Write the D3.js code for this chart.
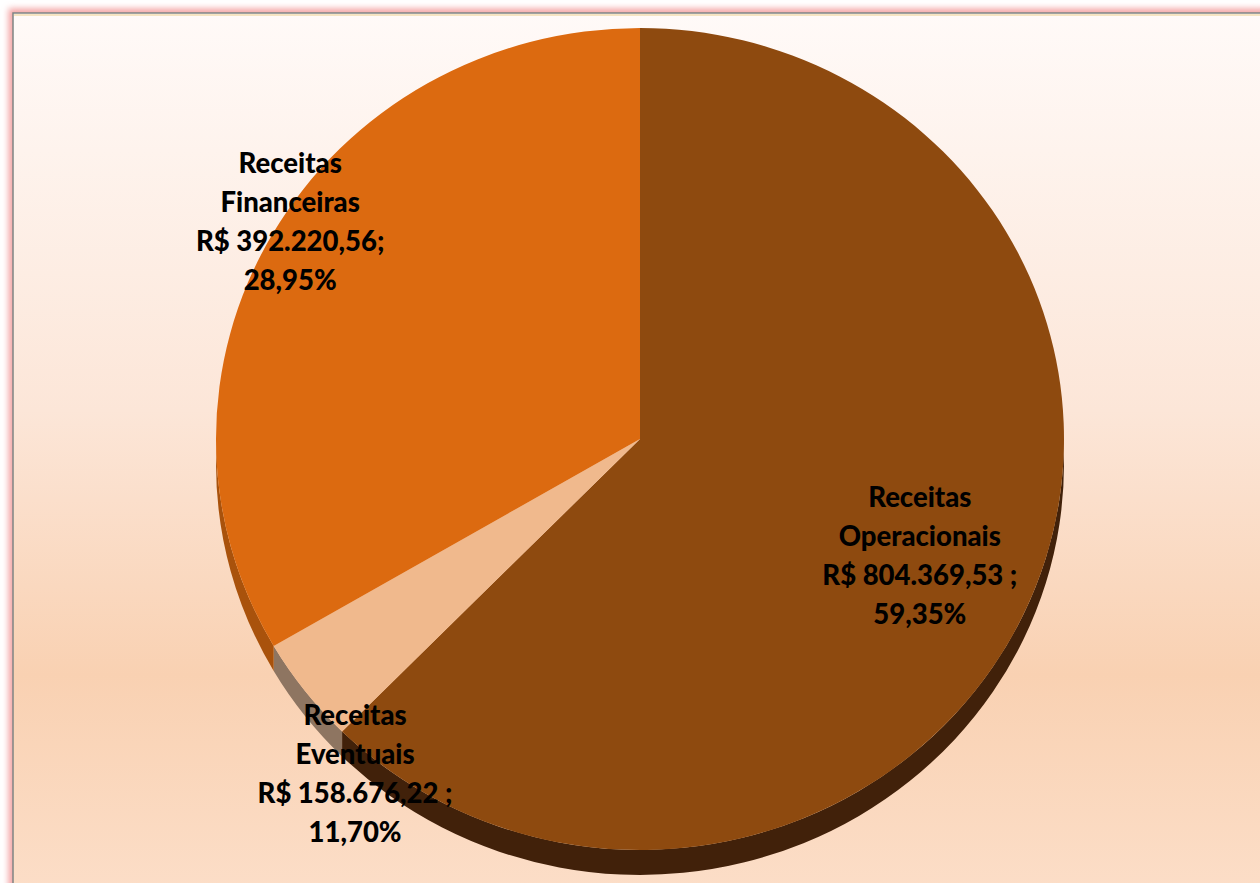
<!DOCTYPE html>
<html>
<head>
  <meta charset="utf-8">
  <title>Receitas</title>
  <script src="https://cdn.jsdelivr.net/npm/d3@7"></script>
  <style>
    body { margin: 0; background: #ffffff; }
    .label {
      font-family: Lato, "Open Sans", sans-serif;
      font-weight: 900;
      font-size: 27.5px;
      fill: #000000;
      text-anchor: middle;
    }
  </style>
</head>
<body>
  <script type="text/javascript">
    // Data (order: clockwise from 12 o'clock)
    var categories = ["Operacionais", "Eventuais", "Financeiras"];
    var amounts = ["R$ 804.369,53 ;", "R$ 158.676,22 ;", "R$ 392.220,56;"];
    var percents = ["59,35%", "11,70%", "28,95%"];
    // slice sizes as drawn in the picture (they do not follow the printed percentages)
    var sliceShares = [62.4, 4.2, 33.4];

    var topColors = ["#8e4a0f", "#f0b98d", "#dc6a10"];
    var sideColors = ["#41210a", "#8e7561", "#a9520c"];

    var width = 1260, height = 883;
    var cx = 640, cy = 439, rx = 424, ry = 411, depth = 25;

    var svg = d3.select("body").append("svg")
      .attr("width", width)
      .attr("height", height);

    var defs = svg.append("defs");

    var bg = defs.append("linearGradient")
      .attr("id", "bg")
      .attr("x1", 0).attr("y1", 0).attr("x2", 0).attr("y2", 1);
    bg.append("stop").attr("offset", "0%").attr("stop-color", "#fffaf8");
    bg.append("stop").attr("offset", "45%").attr("stop-color", "#fce6d8");
    bg.append("stop").attr("offset", "75%").attr("stop-color", "#f9d1b2");
    bg.append("stop").attr("offset", "100%").attr("stop-color", "#fcdec8");

    var glow = defs.append("filter")
      .attr("id", "glow")
      .attr("x", "-5%").attr("y", "-5%").attr("width", "110%").attr("height", "110%");
    glow.append("feGaussianBlur").attr("stdDeviation", 3);

    // frame
    svg.append("rect")
      .attr("x", 13).attr("y", 13)
      .attr("width", width).attr("height", height)
      .attr("fill", "none")
      .attr("stroke", "#f4a3a3")
      .attr("stroke-width", 9)
      .attr("filter", "url(#glow)");

    svg.append("rect")
      .attr("x", 13).attr("y", 13)
      .attr("width", width).attr("height", height)
      .attr("fill", "url(#bg)")
      .attr("stroke", "#7f8584")
      .attr("stroke-width", 1.5);

    svg.append("line")
      .attr("x1", 14).attr("x2", width)
      .attr("y1", 15).attr("y2", 15)
      .attr("stroke", "#f3dcb0")
      .attr("stroke-width", 1.5);

    var pie = d3.pie().sort(null).value(function(d) { return d; });
    var slices = pie(sliceShares);

    function pt(a, dy) {
      return [cx + rx * Math.sin(a), cy - ry * Math.cos(a) + (dy || 0)];
    }

    // side walls of the tilted pie (only the front half shows)
    svg.append("g").selectAll("path")
      .data(slices)
      .enter()
      .append("path")
      .attr("fill", function(d, i) { return sideColors[i]; })
      .attr("d", function(d) {
        var s = Math.max(d.startAngle, Math.PI / 2);
        var e = Math.min(d.endAngle, 3 * Math.PI / 2);
        if (e <= s) return null;
        var p0 = pt(s), p1 = pt(e), p2 = pt(e, depth), p3 = pt(s, depth);
        var large = (e - s) > Math.PI ? 1 : 0;
        return "M" + p0 + "A" + rx + "," + ry + " 0 " + large + " 1 " + p1 +
               "L" + p2 + "A" + rx + "," + ry + " 0 " + large + " 0 " + p3 + "Z";
      });

    // top faces
    var arc = d3.arc().innerRadius(0).outerRadius(rx);
    svg.append("g")
      .attr("transform", "translate(" + cx + "," + cy + ") scale(1," + (ry / rx) + ")")
      .selectAll("path")
      .data(slices)
      .enter()
      .append("path")
      .attr("d", arc)
      .attr("fill", function(d, i) { return topColors[i]; });

    // label block centres, in radius units from the pie centre
    var labelAt = [[0.66, 0.283], [-0.672, 0.815], [-0.825, -0.529]];
    var lineH = 39;

    var labels = svg.append("g").selectAll("text")
      .data(slices)
      .enter()
      .append("text")
      .attr("class", "label");

    labels.each(function(d, i) {
      var lx = cx + labelAt[i][0] * rx;
      var ly = cy + labelAt[i][1] * ry;
      var lines = ["Receitas", categories[i], amounts[i], percents[i]];
      d3.select(this).selectAll("tspan")
        .data(lines)
        .enter()
        .append("tspan")
        .attr("x", lx)
        .attr("y", function(t, j) { return ly + (j - 1.5) * lineH + 10; })
        .text(function(t) { return t; });
    });
  </script>
</body>
</html>
